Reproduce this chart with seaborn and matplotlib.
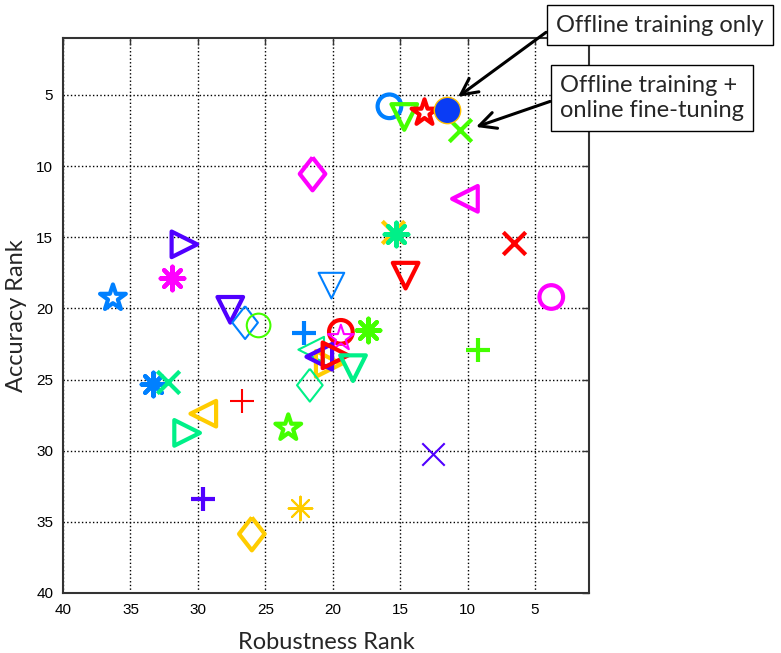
import matplotlib
matplotlib.use('Agg')
import matplotlib.pyplot as plt
import numpy as np
import pandas as pd
import seaborn as sns

# Robustness rank (x) and accuracy rank (y) of each tracker
robustness = [15.8, 14.7, 13.2, 10.6, 21.5, 10.2, 31.0, 15.5, 15.3, 6.6,
              14.6, 31.9, 36.3, 20.1, 3.8, 27.6, 26.5, 25.5, 22.1, 19.4,
              19.4, 17.4, 21.6, 20.3, 21.0, 19.8, 18.5, 21.7, 9.2, 33.3,
              32.2, 26.7, 29.6, 30.8, 23.3, 12.6, 29.6, 22.4, 26.0]
accuracy = [5.8, 6.55, 6.26, 7.46, 10.55, 12.3, 15.5, 14.6, 14.77, 15.4,
            17.7, 17.9, 19.27, 18.4, 19.2, 20.1, 21.0, 21.2, 21.7, 21.65,
            22.1, 21.5, 22.9, 23.9, 23.4, 23.3, 24.2, 25.4, 22.9, 25.3,
            25.2, 26.5, 27.4, 28.75, 28.4, 30.2, 33.4, 34.0, 35.85]

# the highlighted tracker (offline training only)
hl_robustness = [11.5]
hl_accuracy = [6.05]

x_ticks = [40, 35, 30, 25, 20, 15, 10, 5]
y_ticks = [5, 10, 15, 20, 25, 30, 35, 40]
label_offline = 'Offline training only'
label_online = 'Offline training +\nonline fine-tuning'

# marker style of each point
blue, green, red, magenta = '#0080ff', '#44ff00', '#ff0000', '#ff00ff'
purple, spring, yellow = '#5000ff', '#00f088', '#ffcc00'
AST = (8, 2, 0)
DIA = [(0, 1), (0.78, 0), (0, -1), (-0.78, 0), (0, 1)]
markers = ['o', 'v', '*', 'x', DIA, '<', '>', 'x', AST, 'x',
           'v', AST, '*', 'v', 'o', 'v', DIA, 'o', '+', 'o',
           '*', AST, '<', '>', '<', '>', 'v', DIA, '+', AST,
           'x', '+', '<', '>', '*', 'x', '+', AST, DIA]
colors = [blue, green, red, green, magenta, magenta, purple, yellow, spring, red,
          red, magenta, blue, blue, magenta, purple, blue, green, blue, red,
          magenta, green, spring, yellow, purple, red, spring, spring, green, blue,
          spring, red, yellow, spring, green, purple, purple, yellow, yellow]
thick = [1, 1, 1, 1, 1, 1, 1, 1, 1, 1,
         1, 1, 1, 0, 1, 1, 0, 0, 1, 1,
         0, 1, 0, 1, 1, 1, 1, 0, 1, 1,
         1, 0, 1, 1, 1, 0, 1, 0, 1]

sizes = {'o': 290, 'v': 340, '<': 340, '>': 340, '*': 380, 'x': 260, '+': 300, 'dia': 560, 'ast': 290}

sns.set_style('white')
fig = plt.figure(figsize=(7.81, 6.53), dpi=100)
ax = fig.add_axes([0.0807, 0.0919, 0.6735, 0.8499])

for xi, yi, m, c, t in zip(robustness, accuracy, markers, colors, thick):
    lw = 3.0 if t else 1.5
    if m is DIA:
        key = 'dia'
    elif m is AST:
        key = 'ast'
    else:
        key = m
    size = sizes[key]
    if key in ('x', '+', 'ast'):
        sns.scatterplot(x=[xi], y=[yi], marker=m, s=size, color=c, linewidth=lw, ax=ax)
    else:
        sns.scatterplot(x=[xi], y=[yi], marker=m, s=size, facecolor='none',
                        edgecolor=c, linewidth=lw, ax=ax)

sns.scatterplot(x=hl_robustness, y=hl_accuracy, marker='o', s=360, color='#0a3cf5',
                edgecolor='#ffc000', linewidth=1.0, ax=ax, zorder=5)

ax.set_xlim(40, 1)
ax.set_ylim(40, 1)
ax.set_xticks(x_ticks)
ax.set_yticks(y_ticks)
ax.grid(True, color='black', linestyle=':', linewidth=1.0)
ax.tick_params(direction='in', length=5, width=1, top=True, right=True,
               labelsize=11, pad=7, colors='#333333')
for lab in ax.get_xticklabels() + ax.get_yticklabels():
    lab.set_family('Liberation Sans')
    lab.set_color('black')
for sp in ax.spines.values():
    sp.set_color('#333333')
    sp.set_linewidth(1.5)

ax.set_xlabel('Robustness Rank', fontsize=17, family='Lato', labelpad=11)
ax.set_ylabel('Accuracy Rank', fontsize=17, family='Lato', labelpad=7)

box = dict(boxstyle='square,pad=0.4', facecolor='white', edgecolor='black', linewidth=1.0)
arrow = dict(arrowstyle='->,head_length=0.7,head_width=0.35', color='black', lw=2.2,
             relpos=(0, 0.5), shrinkA=0, shrinkB=0)
ax.annotate(label_offline, xy=(10.72, 5.14), xycoords='data',
            xytext=(556, 628), textcoords='figure pixels', ha='left', va='center',
            fontsize=17, family='Lato', bbox=box, arrowprops=arrow, annotation_clip=False)
ax.annotate(label_online, xy=(9.38, 7.25), xycoords='data',
            xytext=(560, 555), textcoords='figure pixels', ha='left', va='center',
            fontsize=17, family='Lato', bbox=box, arrowprops=arrow, annotation_clip=False,
            linespacing=1.25)

fig.savefig('out.png', dpi=100)
